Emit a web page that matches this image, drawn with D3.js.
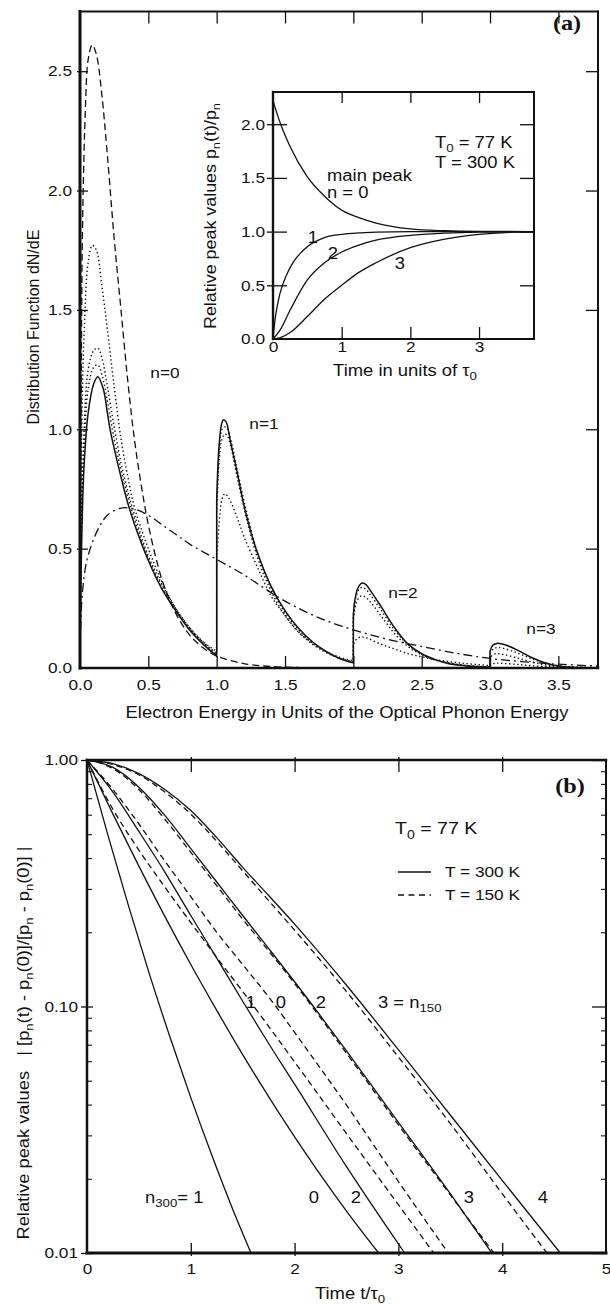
<!DOCTYPE html>
<html lang="en">
<head>
<meta charset="UTF-8">
<title>Distribution function and relative peak values</title>
<script src="https://cdn.jsdelivr.net/npm/d3@7"></script>
<style>
  body { margin: 0; background: #fff; }
  svg text { font-family: "Liberation Sans", Arial, sans-serif; fill: #111; }
  .tag { font-family: "Liberation Serif", "DejaVu Serif", serif !important; font-weight: bold; }
</style>
</head>
<body>
<svg id="chart" width="610" height="1304"></svg>
<script>
// ---- panel (a): distribution function over electron energy ----
const aXTicks = [0, 0.5, 1, 1.5, 2, 2.5, 3, 3.5];
const aYTicks = [0, 0.5, 1, 1.5, 2, 2.5];

const aSolid = [
  [0,0],[0.005,0.3],[0.015,0.6],[0.03,0.85],[0.06,1.07],[0.1,1.19],[0.13,1.22],[0.17,1.17],[0.2,1.07],[0.22,1.0],
  [0.25,0.92],[0.3,0.8],[0.35,0.69],[0.4,0.6],[0.5,0.45],[0.6,0.33],[0.7,0.24],[0.8,0.16],[0.9,0.1],[1.0,0.05],
  [1.0,0.7],[1.01,0.86],[1.02,0.95],[1.035,1.02],[1.05,1.04],[1.07,1.03],[1.1,0.95],[1.15,0.82],[1.2,0.68],[1.25,0.57],
  [1.3,0.48],[1.4,0.34],[1.5,0.24],[1.6,0.165],[1.7,0.11],[1.8,0.07],[1.9,0.04],[2.0,0.022],
  [2.0,0.22],[2.01,0.28],[2.03,0.33],[2.06,0.355],[2.09,0.35],[2.13,0.32],[2.2,0.26],[2.3,0.17],[2.4,0.1],[2.5,0.06],
  [2.6,0.035],[2.7,0.018],[2.8,0.01],[2.9,0.005],[3.0,0.003],
  [3.0,0.07],[3.02,0.095],[3.05,0.103],[3.08,0.102],[3.12,0.095],[3.2,0.075],[3.3,0.045],[3.4,0.022],[3.5,0.008],[3.6,0.003],[3.79,0.001]
];
const aDotted1 = [
  [0,0],[0.01,0.9],[0.03,1.4],[0.06,1.7],[0.09,1.77],[0.12,1.75],[0.16,1.6],[0.2,1.42],[0.25,1.18],[0.3,0.96],
  [0.35,0.8],[0.4,0.67],[0.5,0.5],[0.6,0.36],[0.7,0.25],[0.8,0.17],[0.9,0.11],[1.0,0.07],
  [1.0,0.45],[1.02,0.62],[1.04,0.71],[1.06,0.73],[1.09,0.71],[1.15,0.63],[1.2,0.55],[1.3,0.42],[1.4,0.3],[1.5,0.22],
  [1.6,0.15],[1.7,0.105],[1.8,0.07],[1.9,0.045],[2.0,0.03],
  [2.0,0.1],[2.03,0.125],[2.06,0.13],[2.1,0.125],[2.2,0.1],[2.3,0.08],[2.4,0.06],[2.5,0.047],[2.6,0.035],[2.8,0.02],[3.0,0.01],
  [3.0,0.015],[3.04,0.02],[3.1,0.019],[3.2,0.015],[3.3,0.01],[3.45,0.005],[3.6,0.003]
];
const aDotted2 = [
  [0,0],[0.01,0.6],[0.03,1.0],[0.06,1.25],[0.1,1.33],[0.13,1.34],[0.16,1.3],[0.2,1.18],[0.25,1.01],[0.3,0.86],
  [0.35,0.74],[0.4,0.64],[0.5,0.47],[0.6,0.35],[0.7,0.25],[0.8,0.17],[0.9,0.11],[1.0,0.06],
  [1.0,0.65],[1.02,0.88],[1.04,0.96],[1.06,0.98],[1.08,0.97],[1.15,0.8],[1.2,0.67],[1.3,0.46],[1.4,0.32],[1.5,0.22],
  [1.6,0.15],[1.7,0.1],[1.8,0.065],[1.9,0.04],[2.0,0.025],
  [2.0,0.2],[2.02,0.27],[2.05,0.3],[2.08,0.3],[2.12,0.28],[2.2,0.22],[2.3,0.145],[2.4,0.09],[2.5,0.055],[2.6,0.033],[2.8,0.012],[3.0,0.005],
  [3.0,0.045],[3.03,0.058],[3.06,0.06],[3.1,0.057],[3.2,0.042],[3.3,0.026],[3.4,0.014],[3.5,0.006],[3.7,0.002]
];
const aDotted3 = [
  [0,0],[0.01,0.55],[0.03,0.92],[0.06,1.17],[0.1,1.26],[0.13,1.27],[0.16,1.23],[0.2,1.12],[0.25,0.96],[0.3,0.83],
  [0.35,0.72],[0.4,0.62],[0.5,0.46],[0.6,0.34],[0.7,0.245],[0.8,0.165],[0.9,0.105],[1.0,0.055],
  [1.0,0.68],[1.02,0.92],[1.04,1.0],[1.06,1.01],[1.08,1.0],[1.15,0.83],[1.2,0.7],[1.3,0.48],[1.4,0.335],[1.5,0.232],
  [1.6,0.16],[1.7,0.105],[1.8,0.068],[1.9,0.04],[2.0,0.024],
  [2.0,0.22],[2.02,0.3],[2.05,0.335],[2.08,0.335],[2.12,0.31],[2.2,0.245],[2.3,0.16],[2.4,0.098],[2.5,0.058],[2.6,0.034],[2.8,0.012],[3.0,0.004],
  [3.0,0.065],[3.03,0.082],[3.06,0.086],[3.1,0.082],[3.2,0.063],[3.3,0.04],[3.4,0.021],[3.5,0.009],[3.7,0.002]
];
const aDashed = [
  [0,0],[0.01,1.3],[0.02,1.9],[0.04,2.35],[0.06,2.55],[0.09,2.61],[0.12,2.57],[0.16,2.4],[0.2,2.15],[0.25,1.8],
  [0.3,1.5],[0.35,1.2],[0.4,0.95],[0.45,0.76],[0.5,0.6],[0.6,0.37],[0.7,0.23],[0.8,0.14],[0.9,0.085],[1.0,0.05],
  [1.2,0.018],[1.4,0.006],[1.6,0.002]
];
const aDashDot = [
  [0,0],[0.005,0.18],[0.02,0.33],[0.05,0.45],[0.1,0.54],[0.15,0.6],[0.2,0.64],[0.3,0.67],[0.4,0.665],[0.5,0.64],
  [0.6,0.6],[0.7,0.56],[0.8,0.52],[1.0,0.455],[1.2,0.39],[1.36,0.33],[1.5,0.28],[1.75,0.21],[2.0,0.16],[2.25,0.12],
  [2.5,0.09],[2.75,0.062],[3.0,0.04],[3.25,0.026],[3.5,0.016],[3.79,0.008]
];

// ---- inset: relative peak values over time ----
const inXTicks = [0, 1, 2, 3];
const inYTicks = [0, 0.5, 1, 1.5, 2];
const insetN0 = [[0,2.22],[0.1,2.02],[0.25,1.79],[0.5,1.51],[0.75,1.33],[1.0,1.2],[1.25,1.13],[1.5,1.08],[2.0,1.025],[2.5,1.008],[3.0,1.002],[3.8,1.0]];
const insetN1 = [[0,0],[0.03,0.18],[0.06,0.3],[0.1,0.42],[0.2,0.6],[0.3,0.72],[0.4,0.8],[0.5,0.86],[0.75,0.945],[1.0,0.975],[1.5,0.995],[2.0,1.0],[3.8,1.0]];
const insetN2 = [[0,0],[0.1,0.08],[0.25,0.27],[0.5,0.55],[0.75,0.71],[1.0,0.81],[1.25,0.875],[1.5,0.92],[2.0,0.965],[2.5,0.985],[3.0,0.995],[3.8,1.0]];
const insetN3 = [[0,0],[0.1,0.01],[0.25,0.06],[0.5,0.21],[0.75,0.37],[1.0,0.5],[1.25,0.62],[1.5,0.71],[2.0,0.85],[2.5,0.93],[3.0,0.975],[3.5,0.995],[3.8,1.0]];

// ---- panel (b): normalised peak change, log scale ----
const bXTicks = [0, 1, 2, 3, 4, 5];
const bYTicks = [0.01, 0.1, 1];
const bYMinor = [0.02,0.03,0.04,0.05,0.06,0.07,0.08,0.09,0.2,0.3,0.4,0.5,0.6,0.7,0.8,0.9];
// T = 300 K
const bSolid1 = [[0,1],[0.2,0.498],[0.4,0.256],[0.6,0.136],[0.8,0.075],[1.0,0.0427],[1.2,0.0251],[1.4,0.0152],[1.58,0.01]];
const bSolid0 = [[0,1],[0.25,0.603],[0.5,0.371],[0.75,0.232],[1.0,0.148],[1.25,0.0964],[1.5,0.0638],[2.0,0.0296],[2.5,0.0148],[2.81,0.01]];
const bSolid2 = [[0,1],[0.25,0.741],[0.5,0.513],[0.75,0.351],[1.0,0.234],[1.25,0.157],[1.5,0.105],[1.75,0.0708],[2.0,0.0484],[2.5,0.0224],[3.06,0.01]];
const bSolid3 = [[0,1],[0.25,0.933],[0.5,0.776],[0.75,0.596],[1.0,0.437],[1.25,0.32],[1.5,0.234],[1.75,0.172],[2.0,0.126],[2.5,0.066],[3.0,0.0339],[3.5,0.0174],[3.9,0.01]];
const bSolid4 = [[0,1],[0.25,0.966],[0.5,0.881],[0.75,0.759],[1.0,0.624],[1.25,0.484],[1.5,0.367],[1.75,0.282],[2.0,0.216],[2.5,0.122],[3.0,0.0668],[3.5,0.0363],[4.0,0.0197],[4.56,0.01]];
// T = 150 K
const bDashed1 = [[0,1],[0.25,0.631],[0.5,0.431],[0.75,0.305],[1.0,0.219],[1.25,0.158],[1.5,0.115],[2.0,0.0596],[2.5,0.0305],[3.0,0.0157],[3.34,0.01]];
const bDashed0 = [[0,1],[0.25,0.759],[0.5,0.55],[0.75,0.389],[1.0,0.279],[1.25,0.2],[1.5,0.148],[1.82,0.1],[2.0,0.0785],[2.5,0.0398],[3.0,0.0195],[3.48,0.01]];
const bDashed2 = [[0,1],[0.25,0.923],[0.5,0.759],[0.75,0.575],[1.0,0.422],[1.25,0.309],[1.5,0.226],[1.75,0.168],[2.0,0.124],[2.5,0.0646],[3.0,0.0331],[3.5,0.0172],[3.92,0.01]];
const bDashed3 = [[0,1],[0.25,0.959],[0.5,0.871],[0.75,0.741],[1.0,0.603],[1.25,0.468],[1.5,0.355],[1.75,0.269],[2.0,0.204],[2.5,0.115],[3.0,0.0624],[3.5,0.0335],[4.0,0.0174],[4.43,0.01]];

const INK = '#111';
const STRETCH = 1.15;
const svg = d3.select('#chart');

const xA = d3.scaleLinear().domain([0, 3.79]).range([80, 598]);
const yA = d3.scaleLinear().domain([0, 2.75]).range([668, 11.5]);
const xI = d3.scaleLinear().domain([0, 3.8]).range([273, 534]);
const yI = d3.scaleLinear().domain([0, 2.3]).range([339, 92]);
const xB = d3.scaleLinear().domain([0, 5]).range([87, 606]);
const yB = d3.scaleLog().domain([0.01, 1]).range([1253, 760]);

// text with optional subscript parts: plain strings, or [str] for a subscript
function label(x, y, parts, o = {}) {
  const size = o.size || 16;
  const t = svg.append('text')
    .attr('x', x).attr('y', y + size * 0.35)
    .attr('font-size', size)
    .attr('text-anchor', o.anchor || 'start');
  if (o.rotate) t.attr('transform', `rotate(-90,${x},${y})`);
  if (o.cls) t.attr('class', o.cls);
  let low = false;
  parts.forEach(p => {
    const sub = Array.isArray(p);
    const s = t.append('tspan').text(sub ? p[0] : p);
    if (sub) s.attr('font-size', size * 0.72);
    if (sub !== low) s.attr('dy', sub ? size * 0.3 : -size * 0.3);
    low = sub;
  });
  if (o.len) t.attr('textLength', o.len).attr('lengthAdjust', 'spacingAndGlyphs');
  else if (!o.rotate) t.classed('h', true);
  return t;
}

function ticks(axis, transform, values, size, width = 1.3) {
  svg.append('g').attr('transform', transform)
    .call(axis.tickValues(values).tickSize(size).tickFormat(''))
    .call(g => g.select('.domain').remove())
    .selectAll('line').attr('stroke', INK).attr('stroke-width', width);
}

function tickText(axis, transform, values, fmt, pad, size) {
  const g = svg.append('g').attr('transform', transform)
    .call(axis.tickValues(values).tickSize(0).tickPadding(pad).tickFormat(fmt));
  g.select('.domain').remove();
  g.attr('font-family', null).attr('font-size', null);
  g.selectAll('text').attr('font-size', size).classed('h', true);
}

function frame(x, y, widths) {
  const [x0, x1] = x.range(), [y0, y1] = y.range();
  const sides = [
    [[x0, y1], [x1, y1], widths[0]],
    [[x1, y1], [x1, y0], widths[1]],
    [[x0, y0], [x1, y0], widths[2]],
    [[x0, y1], [x0, y0], widths[3]]
  ];
  sides.forEach(([a, b, w]) => svg.append('line')
    .attr('x1', a[0]).attr('y1', a[1]).attr('x2', b[0]).attr('y2', b[1])
    .attr('stroke', INK).attr('stroke-width', w).attr('stroke-linecap', 'square'));
}

// one path; equal x on neighbours means a vertical jump drawn straight
function curve(data, x, y, dash, width = 1.3, smooth = d3.curveCatmullRom.alpha(0.5)) {
  const gen = d3.line().x(d => x(d[0])).y(d => y(d[1])).curve(smooth);
  const pieces = [[data[0]]];
  for (let i = 1; i < data.length; i++) {
    if (data[i][0] === data[i - 1][0]) pieces.push([]);
    pieces[pieces.length - 1].push(data[i]);
  }
  const d = pieces.map((p, i) => {
    const s = p.length > 1 ? gen(p) : `M${x(p[0][0])},${y(p[0][1])}`;
    return i === 0 ? s : 'L' + s.slice(1);
  }).join('');
  svg.append('path').attr('d', d).attr('fill', 'none')
    .attr('stroke', INK).attr('stroke-width', width)
    .attr('stroke-dasharray', dash || null);
}

// ---------- panel (a) ----------
curve(aDashDot, xA, yA, '9,4,2,4');
curve(aDashed, xA, yA, '7,4');
[aDotted1, aDotted2, aDotted3].forEach(s => curve(s, xA, yA, '1.4,2.6', 1.4));
curve(aSolid, xA, yA, null, 1.5);

frame(xA, yA, [2, 2, 2.5, 3]);
ticks(d3.axisLeft(yA), `translate(${xA(0)},0)`, aYTicks.slice(1), -8);
ticks(d3.axisLeft(yA), `translate(${xA(0)},0)`, aYTicks.slice(1), 3);
ticks(d3.axisRight(yA), `translate(${xA.range()[1]},0)`, aYTicks.slice(1), -12);
ticks(d3.axisTop(xA), `translate(0,${yA.range()[1]})`, aXTicks.slice(1), -12);
ticks(d3.axisBottom(xA), `translate(0,${yA(0)})`, aXTicks.slice(1), -12);
tickText(d3.axisLeft(yA), `translate(${xA(0)},0)`, aYTicks, d3.format('.1f'), 8, 15);
tickText(d3.axisBottom(xA), `translate(0,${yA(0)})`, aXTicks, d3.format('.1f'), 11, 15);

label(33, 327, ['Distribution Function dN/dE'], { rotate: true, anchor: 'middle', size: 16 });
label(347, 712, ['Electron Energy in Units of the Optical Phonon Energy'], { anchor: 'middle', size: 16 });
label(567, 23, ['(a)'], { anchor: 'middle', size: 21, cls: 'tag' });
label(165, 373, ['n=0'], { anchor: 'middle', size: 15 });
label(264, 424, ['n=1'], { anchor: 'middle', size: 15 });
label(403, 593, ['n=2'], { anchor: 'middle', size: 15 });
label(541, 629, ['n=3'], { anchor: 'middle', size: 15 });

// ---------- inset ----------
svg.append('rect').attr('x', xI(0)).attr('y', yI(2.3))
  .attr('width', xI(3.8) - xI(0)).attr('height', yI(0) - yI(2.3)).attr('fill', '#fff');
[insetN0, insetN1, insetN2, insetN3].forEach(s => curve(s, xI, yI, null, 1.3, d3.curveMonotoneX));
frame(xI, yI, [2, 2, 2.2, 2.4]);
ticks(d3.axisLeft(yI), `translate(${xI(0)},0)`, inYTicks.slice(1), -14);
ticks(d3.axisLeft(yI), `translate(${xI(0)},0)`, inYTicks.slice(1), 6);
ticks(d3.axisRight(yI), `translate(${xI.range()[1]},0)`, inYTicks.slice(1), -14);
ticks(d3.axisTop(xI), `translate(0,${yI.range()[1]})`, inXTicks.slice(1), -11);
ticks(d3.axisBottom(xI), `translate(0,${yI(0)})`, inXTicks.slice(1), -12);
tickText(d3.axisLeft(yI), `translate(${xI(0)},0)`, inYTicks, d3.format('.1f'), 8, 15);
tickText(d3.axisBottom(xI), `translate(0,${yI(0)})`, inXTicks, d3.format('d'), 2, 15);

label(210, 216, ['Relative peak values p', ['n'], '(t)/p', ['n']], { rotate: true, anchor: 'middle', size: 16, len: 226 });
label(405, 370, ['Time in units of \u03c4', ['0']], { anchor: 'middle', size: 16 });
label(435, 142, ['T', ['0'], ' = 77 K'], { size: 16 });
label(435, 162, ['T = 300 K'], { size: 16 });
label(327, 175, ['main peak'], { size: 16 });
label(327, 192, ['n = 0'], { size: 16 });
label(313, 237, ['1'], { anchor: 'middle', size: 16 });
label(333, 253, ['2'], { anchor: 'middle', size: 16 });
label(400, 263, ['3'], { anchor: 'middle', size: 16 });

// ---------- panel (b) ----------
[bSolid1, bSolid0, bSolid2, bSolid3, bSolid4].forEach(s => curve(s, xB, yB, null, 1.3, d3.curveMonotoneX));
[bDashed1, bDashed0, bDashed2, bDashed3].forEach(s => curve(s, xB, yB, '6,4', 1.3, d3.curveMonotoneX));

frame(xB, yB, [2.5, 2, 3, 2.5]);
ticks(d3.axisLeft(yB), `translate(${xB(0)},0)`, bYTicks, 6);
ticks(d3.axisLeft(yB), `translate(${xB(0)},0)`, bYTicks, -6);
ticks(d3.axisLeft(yB), `translate(${xB(0)},0)`, bYMinor, -5, 1.1);
ticks(d3.axisRight(yB), `translate(${xB.range()[1]},0)`, bYTicks, -14);
ticks(d3.axisRight(yB), `translate(${xB.range()[1]},0)`, bYMinor, -5, 1.1);
ticks(d3.axisTop(xB), `translate(0,${yB.range()[1]})`, bXTicks.slice(1, -1), -12);
ticks(d3.axisTop(xB), `translate(0,${yB.range()[1]})`, bXTicks.slice(1, -1), 3);
ticks(d3.axisBottom(xB), `translate(0,${yB(0.01)})`, bXTicks.slice(1, -1), -10);
ticks(d3.axisBottom(xB), `translate(0,${yB(0.01)})`, bXTicks.slice(1, -1), 3);
tickText(d3.axisLeft(yB), `translate(${xB(0)},0)`, bYTicks, d3.format('.2f'), 9, 15);
tickText(d3.axisBottom(xB), `translate(0,${yB(0.01)})`, bXTicks, d3.format('d'), 10, 15);

label(23, 1043, ['Relative peak values\u00a0\u00a0\u00a0| [p', ['n'], '(t) - p', ['n'], '(0)]/[p', ['n'], ' - p', ['n'], '(0)] |'],
  { rotate: true, anchor: 'middle', size: 16, len: 393 });
label(350, 1293, ['Time t/\u03c4', ['0']], { anchor: 'middle', size: 16 });
label(570, 786, ['(b)'], { anchor: 'middle', size: 21, cls: 'tag' });
label(395, 828, ['T', ['0'], ' = 77 K'], { size: 17 });

// legend
const legY = [872, 895];
svg.append('line').attr('x1', 398).attr('x2', 431).attr('y1', legY[0]).attr('y2', legY[0])
  .attr('stroke', INK).attr('stroke-width', 1.4);
svg.append('line').attr('x1', 398).attr('x2', 431).attr('y1', legY[1]).attr('y2', legY[1])
  .attr('stroke', INK).attr('stroke-width', 1.4).attr('stroke-dasharray', '6,4.5');
label(445, legY[0], ['T = 300 K'], { size: 15 });
label(445, legY[1], ['T = 150 K'], { size: 15 });

// curve labels
label(251, 1002, ['1'], { anchor: 'middle', size: 16 });
label(281, 1002, ['0'], { anchor: 'middle', size: 16 });
label(321, 1002, ['2'], { anchor: 'middle', size: 16 });
label(378, 1002, ['3 = n', ['150']], { size: 16 });
label(145, 1197, ['n', ['300'], '= 1'], { size: 16 });
label(314, 1197, ['0'], { anchor: 'middle', size: 16 });
label(356, 1197, ['2'], { anchor: 'middle', size: 16 });
label(469, 1197, ['3'], { anchor: 'middle', size: 16 });
label(543, 1197, ['4'], { anchor: 'middle', size: 16 });

// the scan is slightly wider than tall: stretch horizontal text
svg.selectAll('text.h').each(function () {
  const w = this.getComputedTextLength();
  d3.select(this).attr('textLength', w * STRETCH).attr('lengthAdjust', 'spacingAndGlyphs');
});
</script>
</body>
</html>
